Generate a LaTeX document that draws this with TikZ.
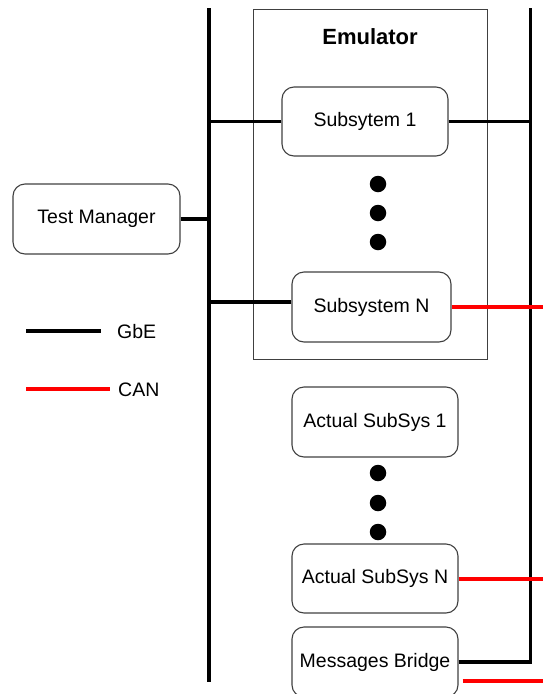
\documentclass[tikz,border=0pt]{standalone}
\usepackage{fontspec}
\setmainfont{Liberation Sans}
\usetikzlibrary{calc}
\definecolor{boxline}{HTML}{404040}
\definecolor{canred}{HTML}{FF0000}
\tikzset{
  unit/.style={draw=boxline, line width=1.1pt, rounded corners=12pt,
    minimum width=166pt, minimum height=69pt, inner sep=0pt,
    font=\fontsize{19.5}{23}\selectfont},
  group/.style={draw=boxline, line width=1pt, inner sep=0pt},
  bus/.style={line width=3.2pt, black},
  gbe/.style={line width=3.2pt, black},
  can/.style={line width=4pt, canred},
  dotmark/.style={fill=black, circle, minimum size=16.5pt, inner sep=0pt},
  legendtext/.style={anchor=west, inner sep=0pt, font=\fontsize{19.5}{23}\selectfont}
}
\begin{document}
\begin{tikzpicture}[x=1pt, y=-1pt]
  \useasboundingbox (0,0) rectangle (543,694);
  \clip (0,0) rectangle (543,694);

  % Emulator frame
  \node[group, minimum width=234.5pt, minimum height=349.5pt] (emu) at (370.25,184.25) {};
  \node[font=\bfseries\fontsize{22}{26}\selectfont, inner sep=0pt] (emutitle) at (370,37) {Emulator};

  % Buses
  \coordinate (lbusTop) at (209,8);
  \coordinate (lbusBot) at (209,682);
  \coordinate (rbusTop) at (530.5,8);
  \draw[bus] (lbusTop) -- (lbusBot);

  % Units
  \node[unit] (sub1) at (365,121.5) {Subsytem 1};
  \node[unit, minimum width=167pt, minimum height=70pt] (tm) at (96.5,219) {Test Manager};
  \node[unit, minimum width=159pt, minimum height=70pt] (subN) at (371.5,307) {Subsystem N};
  \node[unit, minimum height=70pt] (as1) at (375,422) {Actual SubSys 1};
  \node[unit] (asN) at (375,578.5) {Actual SubSys N};
  \node[unit, minimum height=70pt] (mb) at (375,662) {Messages Bridge};

  % Ellipsis dots
  \node[dotmark] (d1) at (378,184) {};
  \node[dotmark] (d2) at (378,213) {};
  \node[dotmark] (d3) at (378,242) {};
  \node[dotmark] (d4) at (378,473) {};
  \node[dotmark] (d5) at (378,503) {};
  \node[dotmark] (d6) at (378,532) {};

  % GbE links
  \draw[gbe] (tm.east) -- (tm.east -| lbusTop);
  \draw[gbe] (sub1.west) -- (sub1.west -| lbusTop);
  \draw[gbe] (sub1.east) -- (sub1.east -| rbusTop);
  \draw[gbe] ([yshift=5pt]subN.west) -- ([yshift=5pt]subN.west -| lbusTop);
  \draw[bus, line join=miter] (mb.east) -| (rbusTop);

  % CAN links
  \coordinate (canEdge) at (543,0);
  \draw[can] (subN.east) -- (subN.east -| canEdge);
  \draw[can] (asN.east) -- (asN.east -| canEdge);
  \draw[can] ([shift={(4,19)}]mb.east) -- ([shift={(4,19)}]mb.east -| canEdge);

  % Legend
  \coordinate (lgA1) at (26,331);
  \coordinate (lgA2) at (101,331);
  \coordinate (lgB1) at (26,389);
  \coordinate (lgB2) at (110,389);
  \draw[gbe] (lgA1) -- (lgA2);
  \draw[can] (lgB1) -- (lgB2);
  \node[legendtext] (lgAtext) at (117,332) {GbE};
  \node[legendtext] (lgBtext) at (118,390) {CAN};
\end{tikzpicture}
\end{document}
